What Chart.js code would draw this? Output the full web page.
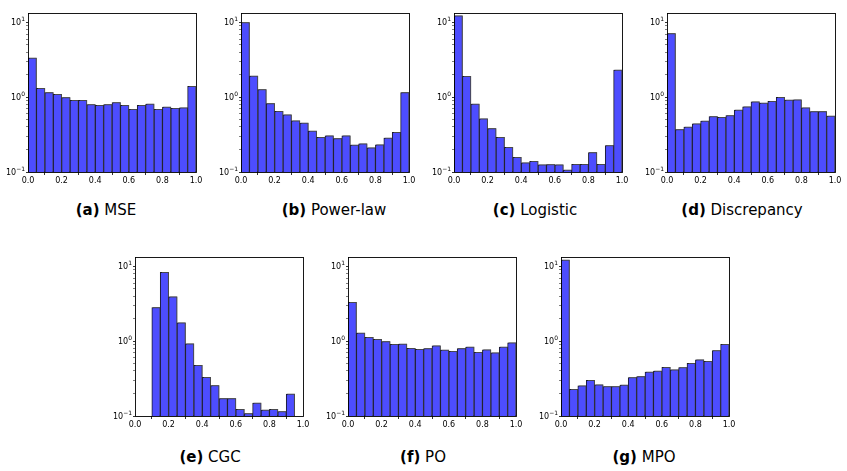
<!DOCTYPE html>
<html>
<head>
<meta charset="utf-8">
<script src="https://cdn.jsdelivr.net/npm/chart.js@4.4.1/dist/chart.umd.min.js"></script>
<style>
  body { margin: 0; background: #fff; width: 847px; height: 471px; position: relative; overflow: hidden; font-family: "DejaVu Sans", sans-serif; }
  .panel { position: absolute; }
  .cap { position: absolute; font-size: 15px; line-height: 18px; white-space: nowrap; transform: translateX(-50%); color: #000; }
</style>
</head>
<body>
<script>
// ---- data ----
const binCenters = [0.025, 0.075, 0.125, 0.175, 0.225, 0.275, 0.325, 0.375, 0.425, 0.475,
                    0.525, 0.575, 0.625, 0.675, 0.725, 0.775, 0.825, 0.875, 0.925, 0.975];
const cgcCenters = [0.125, 0.175, 0.225, 0.275, 0.325, 0.375, 0.425, 0.475, 0.525,
                    0.575, 0.625, 0.675, 0.725, 0.775, 0.825, 0.875, 0.925];

const mseVals = [3.35, 1.32, 1.15, 1.09, 0.99, 0.91, 0.91, 0.80, 0.78, 0.80,
                 0.85, 0.78, 0.69, 0.78, 0.81, 0.69, 0.74, 0.71, 0.72, 1.40];
const powerLawVals = [10.0, 1.92, 1.27, 0.82, 0.65, 0.58, 0.485, 0.45, 0.353, 0.29,
                      0.305, 0.28, 0.305, 0.229, 0.238, 0.211, 0.231, 0.285, 0.34, 1.15];
const logisticVals = [12.3, 1.9, 0.81, 0.515, 0.38, 0.29, 0.213, 0.157, 0.133, 0.139,
                      0.125, 0.126, 0.125, 0.106, 0.127, 0.127, 0.182, 0.127, 0.226, 2.3];
const discrepancyVals = [7.08, 0.369, 0.399, 0.44, 0.481, 0.553, 0.537, 0.569, 0.673, 0.743,
                         0.871, 0.837, 0.88, 1.0, 0.915, 0.924, 0.722, 0.641, 0.641, 0.558];
const cgcVals = [2.82, 8.37, 3.91, 1.76, 0.92, 0.477, 0.33, 0.256, 0.171,
                 0.171, 0.123, 0.108, 0.149, 0.12, 0.123, 0.115, 0.196];
const poVals = [3.31, 1.29, 1.13, 1.06, 0.99, 0.91, 0.915, 0.805, 0.78, 0.797,
                0.87, 0.76, 0.73, 0.797, 0.837, 0.708, 0.766, 0.70, 0.837, 0.95];
const mpoVals = [12.2, 0.227, 0.253, 0.299, 0.261, 0.248, 0.248, 0.259, 0.327, 0.337,
                 0.387, 0.398, 0.449, 0.415, 0.445, 0.506, 0.564, 0.537, 0.751, 0.906];

const xTicks = [0, 0.2, 0.4, 0.6, 0.8, 1.0];
const xTickLabels = ["0.0", "0.2", "0.4", "0.6", "0.8", "1.0"];
const yMajorTicks = [0.1, 1, 10];
const yTickBase = "10";
const yTickExps = ["\u22121", "0", "1"];

const captionTags = ["(a)", "(b)", "(c)", "(d)", "(e)", "(f)", "(g)"];
const captionNames = ["MSE", "Power-law", "Logistic", "Discrepancy", "CGC", "PO", "MPO"];

// ---- layout ----
const PAD_L = 30, PAD_R = 8, PAD_T = 4, PAD_B = 18;
const PLOT_W = 168, PLOT_H = 165;
const panels = [
  { left: 28,  top: 7,   centers: binCenters, vals: mseVals,         capX: 106, capY: 201 },
  { left: 241, top: 7,   centers: binCenters, vals: powerLawVals,    capX: 334, capY: 201 },
  { left: 454, top: 7,   centers: binCenters, vals: logisticVals,    capX: 535, capY: 201 },
  { left: 667, top: 7,   centers: binCenters, vals: discrepancyVals, capX: 742, capY: 201 },
  { left: 135, top: 251, centers: cgcCenters, vals: cgcVals,         capX: 210, capY: 448 },
  { left: 348, top: 251, centers: binCenters, vals: poVals,          capX: 423, capY: 448 },
  { left: 561, top: 251, centers: binCenters, vals: mpoVals,         capX: 644, capY: 448 },
];

// frame, bar shadow and 10^n tick labels
const framePlugin = {
  id: "frame",
  beforeDatasetsDraw(chart) {
    const ctx = chart.ctx;
    ctx.save();
    ctx.shadowColor = "rgba(90,90,90,0.75)";
    ctx.shadowOffsetX = 1;
    ctx.shadowOffsetY = -1;
    ctx.shadowBlur = 0;
  },
  afterDatasetsDraw(chart) {
    chart.ctx.restore();
  },
  afterDraw(chart) {
    const { ctx, chartArea: a } = chart;
    const ys = chart.scales.y;
    ctx.save();
    ctx.strokeStyle = "#000";
    ctx.lineWidth = 0.9;
    ctx.strokeRect(Math.round(a.left) + 0.5, Math.round(a.top) + 0.5,
                   Math.round(a.right - a.left), Math.round(a.bottom - a.top));
    // y labels: "10" with raised exponent
    ctx.fillStyle = "#000";
    ctx.textBaseline = "middle";
    yMajorTicks.forEach((v, i) => {
      const y = ys.getPixelForValue(v);
      ctx.font = "6px 'DejaVu Sans'";
      const ew = ctx.measureText(yTickExps[i]).width;
      const xr = a.left - 3;
      ctx.textAlign = "left";
      ctx.fillText(yTickExps[i], xr - ew, y - 3);
      ctx.font = "8px 'DejaVu Sans'";
      ctx.textAlign = "right";
      ctx.fillText(yTickBase, xr - ew, y + 0.5);
    });
    ctx.restore();
  }
};

function minorLogTicks() {
  const out = [];
  yMajorTicks.forEach((m, i) => {
    out.push({ value: m, major: true });
    if (i < yMajorTicks.length - 1) {
      for (let k = 2; k <= 9; k++) out.push({ value: +(m * k).toPrecision(3), major: false });
    }
  });
  return out;
}

panels.forEach((p, idx) => {
  const wrap = document.createElement("div");
  wrap.className = "panel";
  const W = PLOT_W + PAD_L + PAD_R, H = PLOT_H + PAD_T + PAD_B;
  wrap.style.left = (p.left - PAD_L) + "px";
  wrap.style.top = (p.top - PAD_T) + "px";
  wrap.style.width = W + "px";
  wrap.style.height = H + "px";
  const cv = document.createElement("canvas");
  cv.width = W; cv.height = H;
  cv.style.width = W + "px"; cv.style.height = H + "px";
  wrap.appendChild(cv);
  document.body.appendChild(wrap);

  const cap = document.createElement("div");
  cap.className = "cap";
  cap.style.left = p.capX + "px";
  cap.style.top = p.capY + "px";
  cap.innerHTML = "<b>" + captionTags[idx] + "</b> " + captionNames[idx];
  document.body.appendChild(cap);

  new Chart(cv.getContext("2d"), {
    type: "bar",
    data: {
      datasets: [{
        data: p.centers.map((c, i) => ({ x: c, y: p.vals[i] })),
        backgroundColor: "#4d4dff",
        borderColor: "#1a1a2a",
        borderWidth: 1,
        borderSkipped: "start",
        barPercentage: 1,
        categoryPercentage: 1,
      }]
    },
    options: {
      responsive: false,
      animation: false,
      devicePixelRatio: 1,
      layout: { padding: { top: PAD_T, right: PAD_R, left: 0, bottom: 0 } },
      plugins: { legend: { display: false }, tooltip: { enabled: false } },
      scales: {
        x: {
          type: "linear",
          min: 0, max: 1,
          offset: false,
          afterBuildTicks: (s) => { s.ticks = xTicks.map(v => ({ value: v })); },
          afterFit: (s) => { s.height = PAD_B; },
          ticks: {
            autoSkip: false,
            maxRotation: 0,
            padding: 1,
            color: "#000",
            font: { family: "DejaVu Sans", size: 8 },
            callback: (v) => xTickLabels[xTicks.findIndex(t => Math.abs(t - v) < 1e-6)] ?? ""
          },
          grid: { drawOnChartArea: false, tickLength: 3, tickColor: "#000", tickWidth: 0.8 },
          border: { display: false }
        },
        y: {
          type: "logarithmic",
          min: 0.1, max: 13.3,
          afterBuildTicks: (s) => { s.ticks = minorLogTicks(); },
          afterFit: (s) => { s.width = PAD_L; },
          ticks: { autoSkip: false, callback: () => "" },
          grid: {
            drawOnChartArea: false,
            tickLength: 2,
            tickColor: "#000",
            tickWidth: (ctx) => (ctx.tick && ctx.tick.major ? 0.8 : 0.5)
          },
          border: { display: false }
        }
      }
    },
    plugins: [framePlugin]
  });
});
</script>
</body>
</html>
